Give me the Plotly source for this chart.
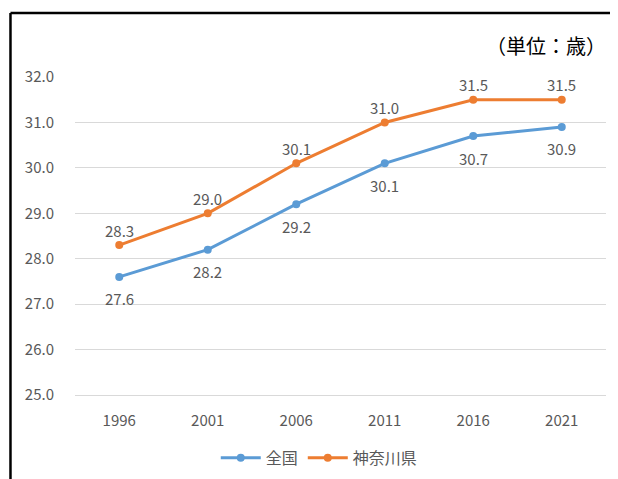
import plotly.graph_objects as go

years = ["1996", "2001", "2006", "2011", "2016", "2021"]
zenkoku = [27.6, 28.2, 29.2, 30.1, 30.7, 30.9]
kanagawa = [28.3, 29.0, 30.1, 31.0, 31.5, 31.5]

FONT = "Noto Sans CJK JP"
GRAY = "#595959"
BLUE = "#5B9BD5"
ORANGE = "#ED7D31"

fig = go.Figure()

series = [("全国", zenkoku, BLUE, -22), ("神奈川県", kanagawa, ORANGE, 15)]
for name, vals, color, shift in series:
    fig.add_trace(go.Scatter(
        x=years, y=vals, name=name,
        mode="lines+markers",
        line=dict(color=color, width=3),
        marker=dict(size=8, color=color),
    ))
    # データラベル（カテゴリ番号で位置指定）
    for i, v in enumerate(vals):
        fig.add_annotation(
            x=i, y=v, text=f"{v:.1f}", showarrow=False,
            yshift=shift, font=dict(family=FONT, size=15, color=GRAY),
        )

# 単位表示
fig.add_annotation(
    text="（単位：歳）", xref="paper", yref="paper",
    x=1.004, y=1.10, xanchor="right", yanchor="middle",
    showarrow=False, font=dict(family=FONT, size=20, color="#000000"),
)

# 外枠（上・左のみ）
fig.add_shape(type="line", xref="paper", yref="paper",
              x0=-0.1215, x1=1.2, y0=1.201, y1=1.201,
              line=dict(color="#000000", width=2.5))
fig.add_shape(type="line", xref="paper", yref="paper",
              x0=-0.1215, x1=-0.1215, y0=1.201, y1=-0.4,
              line=dict(color="#000000", width=2.5))

# ページ本体の余白(8px)分だけ左上に寄せる
fig.update_layout(
    width=618, height=479,
    margin=dict(l=67, r=20, t=69, b=92),
    paper_bgcolor="white", plot_bgcolor="white",
    font=dict(family=FONT, size=15, color=GRAY),
    showlegend=True,
    legend=dict(
        orientation="h", x=0.46, y=-0.198,
        xanchor="center", yanchor="middle",
        font=dict(family=FONT, size=16, color=GRAY),
        itemwidth=40,
    ),
)
fig.update_xaxes(
    type="category", range=[-0.5, len(years) - 0.5],
    showgrid=False, ticks="",
    showline=True, linecolor="#D9D9D9", linewidth=1,
    ticklabelstandoff=12,
    tickfont=dict(family=FONT, size=15, color=GRAY),
)
fig.update_yaxes(
    range=[25, 32], dtick=1, tickformat=".1f",
    showgrid=True, gridcolor="#D9D9D9", gridwidth=1,
    zeroline=False, showline=False, ticks="",
    ticklabelstandoff=20,
    tickfont=dict(family=FONT, size=15, color=GRAY),
)

fig.write_html("out.html")
